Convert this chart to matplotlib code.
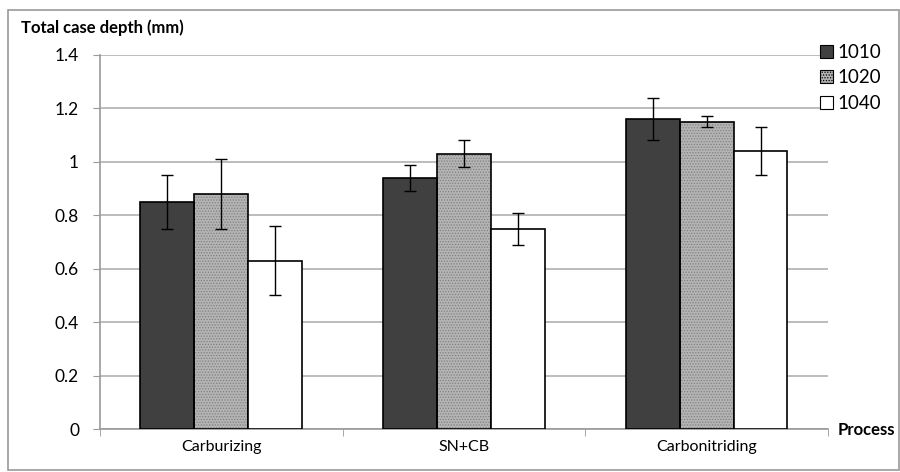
import numpy as np
from matplotlib import pyplot as plt
from matplotlib.patches import Patch, Rectangle

plt.rcParams['font.family'] = ['Lato', 'DejaVu Sans']
plt.rcParams['hatch.linewidth'] = 0.6

processes = ["Carburizing", "SN+CB", "Carbonitriding"]
steels = ["1010", "1020", "1040"]
depth = {
    "1010": [0.85, 0.94, 1.16],
    "1020": [0.88, 1.03, 1.15],
    "1040": [0.63, 0.75, 1.04],
}
err = {
    "1010": [0.10, 0.05, 0.08],
    "1020": [0.13, 0.05, 0.02],
    "1040": [0.13, 0.06, 0.09],
}
yticks = [0, 0.2, 0.4, 0.6, 0.8, 1.0, 1.2, 1.4]
ytick_labels = ["0", "0.2", "0.4", "0.6", "0.8", "1", "1.2", "1.4"]

face = {"1010": "#404040", "1020": "#b4b4b4", "1040": "#ffffff"}
hatch = {"1010": None, "1020": "......", "1040": None}

fig = plt.figure(figsize=(9, 4.72), dpi=100)
ax = fig.add_axes([0.111, 0.091, 0.809, 0.7925])

x = np.arange(len(processes))
width = 0.222
for i, s in enumerate(steels):
    pos = x + (i - 1) * width
    if hatch[s]:
        # hatched fill first, then a plain black outline on top
        ax.bar(pos, depth[s], width, color=face[s], hatch=hatch[s],
               edgecolor="#808080", linewidth=0, zorder=2)
        ax.bar(pos, depth[s], width, fill=False, edgecolor="black",
               linewidth=1.2, zorder=3)
    else:
        ax.bar(pos, depth[s], width, color=face[s], edgecolor="black",
               linewidth=1.2, zorder=3)
    ax.errorbar(pos, depth[s], yerr=err[s], fmt="none", ecolor="black",
                elinewidth=1, capsize=4, capthick=1, zorder=4)

ax.set_xlim(-0.5, 2.5)
ax.set_ylim(0, 1.4)
ax.set_yticks(yticks)
ax.set_yticklabels(ytick_labels, fontsize=12.5)
ax.set_xticks(x)
ax.set_xticklabels(processes, fontsize=11.5)
ax.set_xticks([-0.5, 0.5, 1.5, 2.5], minor=True)
ax.tick_params(axis="x", which="major", length=0, pad=8)
ax.tick_params(axis="x", which="minor", length=5, color="#999999", direction="out")
ax.tick_params(axis="y", length=5, color="#999999", direction="out", pad=10)
ax.yaxis.grid(True, color="#b0b0b0", linewidth=1.2, zorder=0)
ax.set_axisbelow(True)
for side in ["top", "right"]:
    ax.spines[side].set_visible(False)
for side in ["left", "bottom"]:
    ax.spines[side].set_color("#999999")
    ax.spines[side].set_linewidth(1.2)

fig.text(0.023, 0.942, "Total case depth (mm)", fontsize=12,
         fontweight="bold", va="center")
fig.text(0.931, 0.088, "Process", fontsize=12, fontweight="bold", va="center")

handles = [Patch(facecolor=face[s], edgecolor="black", hatch=hatch[s],
                 linewidth=0.8) for s in steels]
fig.legend(handles, steels, loc="upper left", bbox_to_anchor=(0.896, 0.935),
           frameon=False, fontsize=13.5, handlelength=0.7, handleheight=0.7,
           handletextpad=0.25, labelspacing=0.45, borderpad=0.2)

fig.patches.append(Rectangle((0.009, 0.004), 0.99, 0.974, transform=fig.transFigure,
                             fill=False, edgecolor="#999999", linewidth=1.2))

plt.savefig("out.png", dpi=100)
